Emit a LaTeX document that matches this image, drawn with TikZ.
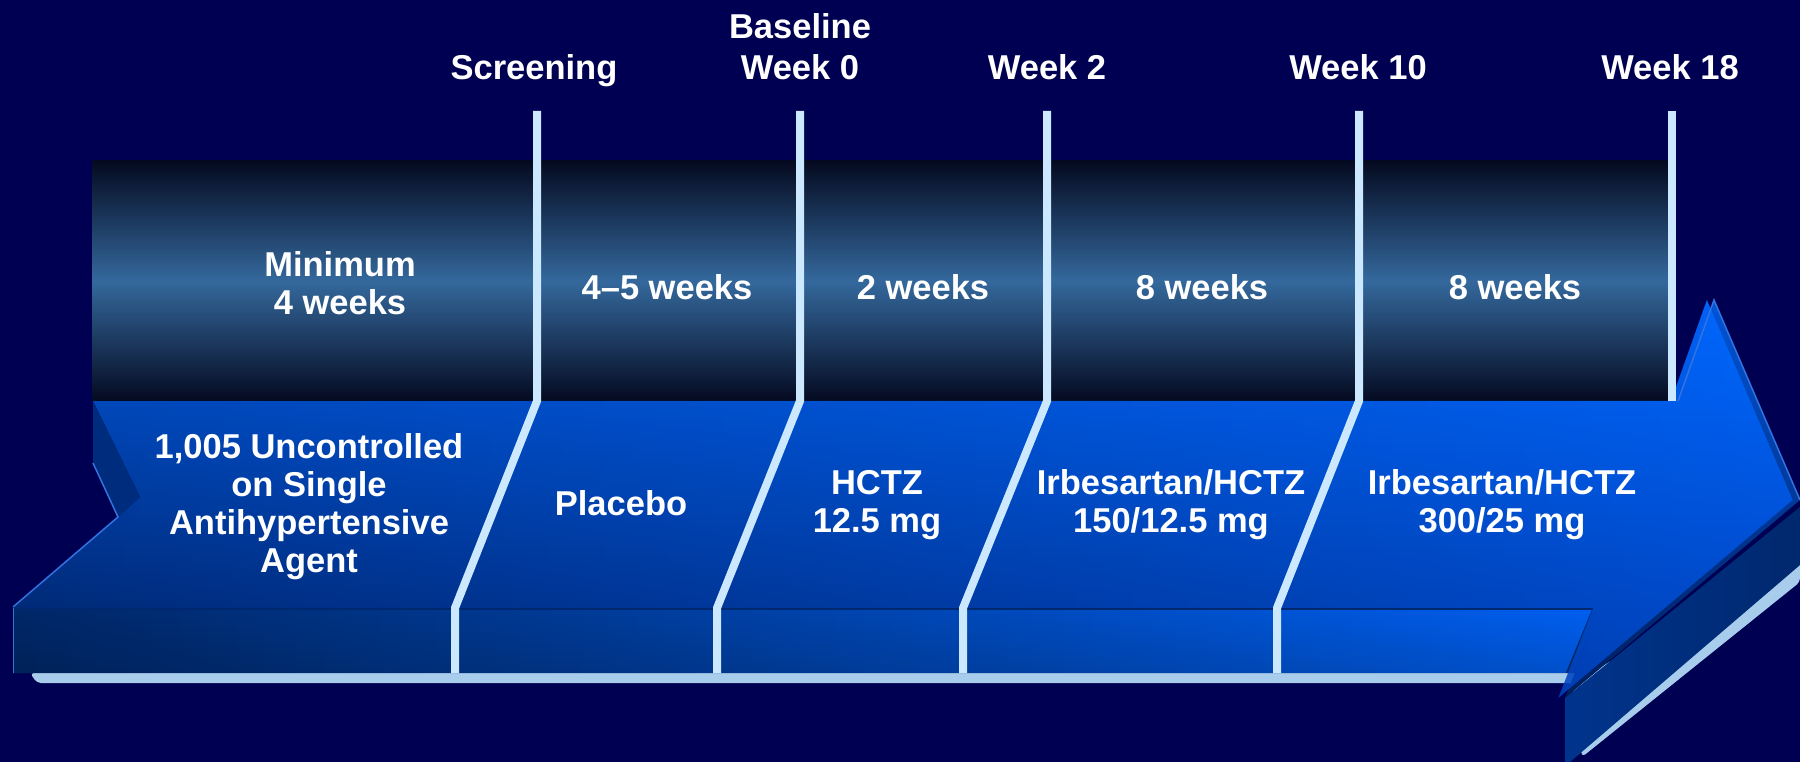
\documentclass[tikz,border=0pt]{standalone}
\usepackage{fontspec}
\setmainfont{Liberation Sans}
\usetikzlibrary{fadings}
\definecolor{bg}{RGB}{0,0,82}
\definecolor{bandDark}{RGB}{4,10,32}
\definecolor{bandMid}{RGB}{52,104,156}
\definecolor{tickc}{RGB}{204,232,255}
\definecolor{shadowc}{RGB}{168,204,236}
\definecolor{faceTopL}{RGB}{0,84,214}
\definecolor{faceBotL}{RGB}{0,30,92}
\definecolor{faceTopR}{RGB}{0,104,255}
\definecolor{faceBotR}{RGB}{0,66,190}
\definecolor{stripL}{RGB}{0,40,104}
\definecolor{stripR}{RGB}{0,96,242}
\definecolor{frontL}{RGB}{0,52,140}
\definecolor{frontR}{RGB}{0,40,110}
\definecolor{notchc}{RGB}{0,44,125}
\definecolor{edgec}{RGB}{50,115,225}
\tikzfading[name=fadeToRight, left color=transparent!100, right color=transparent!0]
\tikzfading[name=fadeToBottom, top color=transparent!100, bottom color=transparent!0]
\tikzset{
  lbl/.style={text=white, font=\bfseries\fontsize{34.5}{38}\selectfont, align=center, inner sep=0pt},
  tickline/.style={draw=tickc, line width=8pt, line join=miter},
}
\begin{document}
\begin{tikzpicture}[x=1pt,y=-1pt]
\useasboundingbox (0,0) rectangle (1800,762);
\fill[bg] (0,0) rectangle (1800,762);
% upper band
\path[top color=bandDark, bottom color=bandDark, middle color=bandMid] (92,161) rectangle (1672,401);
% shadow of the arrow
\fill[shadowc, rounded corners=4pt] (37,683) -- (30,673) -- (1590,673) -- (1800,553) -- (1800,582) -- (1582,757) -- (1572,683) -- cycle;
% arrowhead front face
\shade[left color=frontL, right color=frontR] (1565,698) -- (1800,507) -- (1800,565) -- (1570,762) -- (1565,762) -- cycle;
% body front strip
\fill[stripL] (13,608) -- (1600,608) -- (1573,673) -- (13,673) -- cycle;
\fill[stripR, path fading=fadeToRight] (13,608) -- (1600,608) -- (1573,673) -- (13,673) -- cycle;
\fill[black, opacity=0.15, path fading=fadeToBottom] (13,608) -- (1600,608) -- (1573,673) -- (13,673) -- cycle;
\draw[frontR, line width=2pt] (13,609) -- (1599,609);
% top face of the arrow
\shade[top color=faceTopL, bottom color=faceBotL] (93,401) -- (1678,401) -- (1714,300) -- (1800,500) -- (1565,698) -- (1600,608) -- (13,608) -- (118,517) -- (140,497) -- cycle;
\shade[top color=faceTopR, bottom color=faceBotR, path fading=fadeToRight] (93,401) -- (1678,401) -- (1714,300) -- (1800,500) -- (1565,698) -- (1600,608) -- (13,608) -- (118,517) -- (140,497) -- cycle;
% notch side
\fill[notchc] (93,401) -- (140,497) -- (118,517) -- (93,463) -- cycle;
\draw[edgec, line width=1.5pt] (93,463) -- (118,517) -- (13,607);
\draw[edgec, line width=1.5pt] (1678,401) -- (1714,300) -- (1800,500);
\draw[edgec, line width=1pt] (13,608) -- (13,673);
% time lines
\draw[tickline] (537,111) -- (537,401) -- (455,608) -- (455,673);
\draw[tickline] (800,111) -- (800,401) -- (717,608) -- (717,673);
\draw[tickline] (1047,111) -- (1047,401) -- (963,608) -- (963,673);
\draw[tickline] (1359,111) -- (1359,401) -- (1277,608) -- (1277,673);
\draw[tickline] (1672,111) -- (1672,401);
% top labels
\node[lbl, anchor=base] (scr) at (534,80) {Screening};
\node[lbl, anchor=base] (wk0) at (800,80) {Week 0};
\node[lbl, anchor=base] (bsl) at (800,38.3) {Baseline};
\node[lbl, anchor=base] (wk2) at (1047,80) {Week 2};
\node[lbl, anchor=base] (wk10) at (1358,80) {Week 10};
\node[lbl, anchor=base] (wk18) at (1670,80) {Week 18};
% band labels
\node[lbl] (min) at (340,283) {Minimum\\4 weeks};
\node[lbl] (d1) at (667,287) {4–5 weeks};
\node[lbl] (d2) at (923,287) {2 weeks};
\node[lbl] (d3) at (1202,287) {8 weeks};
\node[lbl] (d4) at (1515,287) {8 weeks};
% arrow labels
\node[lbl] (pop) at (309,507) {1,005 Uncontrolled\\on Single\\Antihypertensive\\Agent};
\node[lbl] (plc) at (621,503) {Placebo};
\node[lbl] (hctz) at (877,505) {HCTZ\\12.5 mg};
\node[lbl] (ih1) at (1171,505) {Irbesartan/HCTZ\\150/12.5 mg};
\node[lbl] (ih2) at (1502,505) {Irbesartan/HCTZ\\300/25 mg};
\end{tikzpicture}
\end{document}
